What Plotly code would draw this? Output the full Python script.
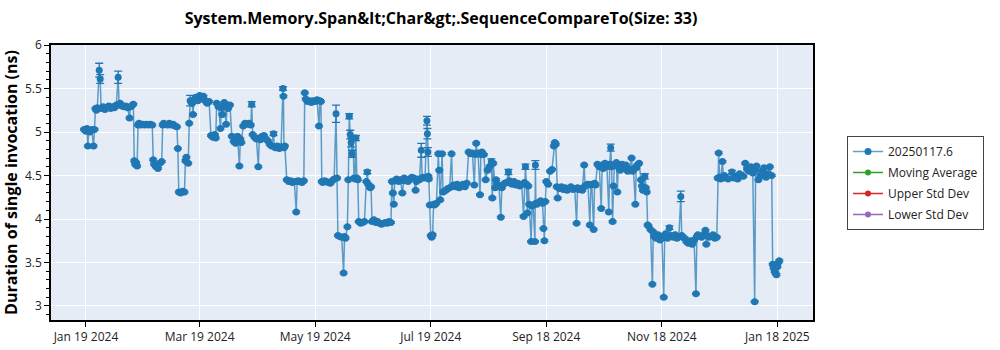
import plotly.graph_objects as go

# ---------------- data ----------------
dates = [
    "2024-01-18", "2024-01-19", "2024-01-19 12:00", "2024-01-20", "2024-01-20 12:00", "2024-01-21", "2024-01-22", "2024-01-23", "2024-01-23 12:00",
    "2024-01-24", "2024-01-24 12:00", "2024-01-25", "2024-01-26", "2024-01-26 12:00", "2024-01-27", "2024-01-28", "2024-01-29", "2024-01-30",
    "2024-01-31", "2024-02-01", "2024-02-02", "2024-02-03", "2024-02-04", "2024-02-05", "2024-02-05 12:00", "2024-02-06", "2024-02-07",
    "2024-02-08", "2024-02-09", "2024-02-10", "2024-02-11", "2024-02-11 12:00", "2024-02-12", "2024-02-13",
    "2024-02-13 12:00", "2024-02-14", "2024-02-14 12:00", "2024-02-15",
    "2024-02-15 12:00", "2024-02-16", "2024-02-17", "2024-02-18", "2024-02-19", "2024-02-20", "2024-02-21", "2024-02-22", "2024-02-23",
    "2024-02-23 12:00", "2024-02-24", "2024-02-25", "2024-02-26", "2024-02-27", "2024-02-28",
    "2024-02-28 12:00", "2024-02-29", "2024-03-01", "2024-03-02", "2024-03-03", "2024-03-04", "2024-03-05", "2024-03-06", "2024-03-07", "2024-03-07 12:00",
    "2024-03-08", "2024-03-09", "2024-03-10", "2024-03-11",
    "2024-03-11 12:00", "2024-03-12", "2024-03-13", "2024-03-13 12:00",
    "2024-03-14", "2024-03-15", "2024-03-15 12:00", "2024-03-16", "2024-03-17", "2024-03-18", "2024-03-19", "2024-03-20", "2024-03-21", "2024-03-22", "2024-03-23", "2024-03-24",
    "2024-03-25", "2024-03-26", "2024-03-27", "2024-03-27 12:00",
    "2024-03-28", "2024-03-29", "2024-03-30", "2024-03-30 12:00", "2024-03-31", "2024-04-01", "2024-04-02", "2024-04-02 12:00", "2024-04-03", "2024-04-04",
    "2024-04-05", "2024-04-06", "2024-04-07", "2024-04-08", "2024-04-09", "2024-04-09 12:00", "2024-04-10",
    "2024-04-11", "2024-04-12", "2024-04-13", "2024-04-14", "2024-04-15", "2024-04-15 12:00",
    "2024-04-16", "2024-04-17", "2024-04-18", "2024-04-19", "2024-04-19 12:00", "2024-04-20", "2024-04-21", "2024-04-22", "2024-04-23", "2024-04-24",
    "2024-04-25", "2024-04-26", "2024-04-27", "2024-04-27 12:00", "2024-04-28", "2024-04-29", "2024-04-30", "2024-05-01", "2024-05-02", "2024-05-02 06:00", "2024-05-02 12:00", "2024-05-03",
    "2024-05-04", "2024-05-05", "2024-05-06", "2024-05-07", "2024-05-08", "2024-05-09", "2024-05-09 12:00", "2024-05-10", "2024-05-11", "2024-05-12", "2024-05-13",
    "2024-05-13 12:00", "2024-05-14", "2024-05-15", "2024-05-16", "2024-05-17", "2024-05-18", "2024-05-19", "2024-05-20", "2024-05-21", "2024-05-21 12:00", "2024-05-22",
    "2024-05-22 12:00", "2024-05-23", "2024-05-24", "2024-05-25", "2024-05-26", "2024-05-27", "2024-05-28", "2024-05-29", "2024-05-30", "2024-05-30 12:00",
    "2024-05-31", "2024-06-01", "2024-06-02", "2024-06-03", "2024-06-03 12:00", "2024-06-04", "2024-06-05", "2024-06-05 12:00",
    "2024-06-06", "2024-06-06 12:00", "2024-06-07", "2024-06-07 12:00", "2024-06-08", "2024-06-08 12:00", "2024-06-09", "2024-06-09 12:00", "2024-06-10", "2024-06-10 12:00",
    "2024-06-11", "2024-06-12", "2024-06-13", "2024-06-14",
    "2024-06-15", "2024-06-15 12:00", "2024-06-16", "2024-06-17", "2024-06-17 12:00",
    "2024-06-18", "2024-06-19", "2024-06-20", "2024-06-21", "2024-06-22", "2024-06-23", "2024-06-24", "2024-06-25", "2024-06-26", "2024-06-27", "2024-06-28",
    "2024-06-28 12:00", "2024-06-29", "2024-06-29 12:00", "2024-06-30", "2024-07-01", "2024-07-02", "2024-07-03", "2024-07-04", "2024-07-04 12:00", "2024-07-05",
    "2024-07-06", "2024-07-07", "2024-07-08", "2024-07-09", "2024-07-10", "2024-07-11", "2024-07-11 12:00", "2024-07-12", "2024-07-13", "2024-07-14", "2024-07-14 12:00",
    "2024-07-15", "2024-07-16", "2024-07-17", "2024-07-17 06:00", "2024-07-17 12:00", "2024-07-17 18:00",
    "2024-07-18", "2024-07-18 12:00", "2024-07-19", "2024-07-19 12:00", "2024-07-20", "2024-07-20 12:00", "2024-07-21", "2024-07-22", "2024-07-23", "2024-07-23 12:00",
    "2024-07-24", "2024-07-25", "2024-07-25 12:00", "2024-07-26", "2024-07-27", "2024-07-28", "2024-07-29", "2024-07-30", "2024-07-30 12:00", "2024-07-31",
    "2024-08-01", "2024-08-02", "2024-08-03", "2024-08-04", "2024-08-05", "2024-08-06", "2024-08-07",
    "2024-08-08", "2024-08-09", "2024-08-10", "2024-08-11", "2024-08-11 12:00", "2024-08-12", "2024-08-12 12:00", "2024-08-13", "2024-08-14", "2024-08-14 12:00",
    "2024-08-15", "2024-08-16", "2024-08-17",
    "2024-08-18", "2024-08-19", "2024-08-20", "2024-08-20 12:00", "2024-08-21", "2024-08-22", "2024-08-22 12:00", "2024-08-23", "2024-08-24", "2024-08-25",
    "2024-08-25 12:00", "2024-08-26", "2024-08-27", "2024-08-28", "2024-08-29", "2024-08-29 12:00", "2024-08-30", "2024-08-31", "2024-09-01", "2024-09-02",
    "2024-09-03", "2024-09-04", "2024-09-05", "2024-09-06", "2024-09-06 12:00", "2024-09-07", "2024-09-07 12:00", "2024-09-08", "2024-09-08 12:00",
    "2024-09-09", "2024-09-10", "2024-09-10 12:00", "2024-09-11", "2024-09-12", "2024-09-12 06:00", "2024-09-12 12:00", "2024-09-13", "2024-09-14", "2024-09-15",
    "2024-09-16", "2024-09-16 12:00", "2024-09-17", "2024-09-17 12:00",
    "2024-09-18", "2024-09-19", "2024-09-20", "2024-09-21", "2024-09-22", "2024-09-22 12:00", "2024-09-23",
    "2024-09-23 12:00", "2024-09-24", "2024-09-24 12:00", "2024-09-25", "2024-09-26", "2024-09-27", "2024-09-28", "2024-09-29", "2024-09-30", "2024-10-01",
    "2024-10-02", "2024-10-03", "2024-10-04", "2024-10-04 12:00", "2024-10-05", "2024-10-06", "2024-10-07", "2024-10-08", "2024-10-08 12:00", "2024-10-09",
    "2024-10-10", "2024-10-11", "2024-10-11 12:00", "2024-10-12", "2024-10-13", "2024-10-13 12:00", "2024-10-14",
    "2024-10-15", "2024-10-16", "2024-10-17", "2024-10-17 12:00", "2024-10-18", "2024-10-19", "2024-10-20", "2024-10-21", "2024-10-21 12:00", "2024-10-22",
    "2024-10-22 12:00", "2024-10-23", "2024-10-23 12:00", "2024-10-24", "2024-10-25", "2024-10-25 12:00", "2024-10-26", "2024-10-27", "2024-10-28", "2024-10-29",
    "2024-10-30", "2024-10-31", "2024-11-01", "2024-11-02", "2024-11-02 12:00", "2024-11-03", "2024-11-04", "2024-11-04 12:00", "2024-11-05", "2024-11-06",
    "2024-11-07", "2024-11-07 12:00", "2024-11-08", "2024-11-09", "2024-11-09 12:00", "2024-11-10", "2024-11-10 12:00",
    "2024-11-11", "2024-11-12", "2024-11-13", "2024-11-13 12:00", "2024-11-14", "2024-11-15", "2024-11-16", "2024-11-17", "2024-11-18", "2024-11-19",
    "2024-11-19 12:00", "2024-11-20", "2024-11-21", "2024-11-22", "2024-11-23", "2024-11-24", "2024-11-25", "2024-11-26", "2024-11-27", "2024-11-28",
    "2024-11-28 12:00", "2024-11-29", "2024-11-30", "2024-12-01", "2024-12-02", "2024-12-03", "2024-12-04", "2024-12-05", "2024-12-06", "2024-12-06 12:00",
    "2024-12-07", "2024-12-08", "2024-12-09", "2024-12-10", "2024-12-11", "2024-12-11 12:00", "2024-12-12", "2024-12-13", "2024-12-14", "2024-12-15",
    "2024-12-16", "2024-12-17",
    "2024-12-17 12:00", "2024-12-18", "2024-12-18 12:00", "2024-12-19", "2024-12-20", "2024-12-20 12:00", "2024-12-21", "2024-12-22", "2024-12-23",
    "2024-12-25", "2024-12-26", "2024-12-27", "2024-12-28", "2024-12-29", "2024-12-30", "2024-12-31",
    "2025-01-01", "2025-01-02", "2025-01-03", "2025-01-04", "2025-01-05", "2025-01-06", "2025-01-06 12:00", "2025-01-07", "2025-01-08", "2025-01-09",
    "2025-01-10", "2025-01-11", "2025-01-12", "2025-01-13", "2025-01-14", "2025-01-15",
    "2025-01-15 12:00", "2025-01-16", "2025-01-16 12:00", "2025-01-17", "2025-01-17 12:00", "2025-01-18", "2025-01-18 12:00", "2025-01-19",
]

values = [
    5.03, 5.01, 5.04, 4.84, 5.02, 5.00, 5.03, 4.84, 5.03,
    5.27, 5.25, 5.28, 5.71, 5.61, 5.27, 5.29, 5.26, 5.28,
    5.30, 5.27, 5.29, 5.28, 5.31, 5.63, 5.31, 5.33, 5.30,
    5.29, 5.30, 5.28, 5.16, 5.29, 5.30, 5.32,
    4.67, 4.63, 4.65, 4.61,
    5.08, 5.10, 5.08, 5.09, 5.08, 5.09, 5.08, 5.09, 5.08,
    4.68, 4.63, 4.60, 4.58, 4.64, 4.66,
    5.08, 5.10, 5.09, 5.08, 5.10, 5.08, 5.09, 5.07, 5.06, 4.81,
    4.31, 4.30, 4.32, 4.31,
    4.67, 4.71, 4.64, 5.10,
    5.36, 5.33, 5.20, 5.37, 5.40, 5.36, 5.42, 5.38, 5.41, 5.36, 5.33, 5.35,
    4.96, 4.94, 4.97, 4.93,
    5.33, 5.29, 5.04, 5.28, 5.20, 5.34, 5.09, 5.30, 5.27, 5.31,
    4.95, 4.89, 4.87, 4.95, 4.61, 4.92, 4.88,
    5.07, 5.10, 5.09, 5.10, 5.08, 5.32,
    4.97, 4.94, 4.92, 4.60, 4.93, 4.91, 4.95, 4.96, 4.92, 4.90,
    4.86, 4.84, 4.98, 4.83, 4.82, 4.84, 4.81, 4.83, 5.50, 5.41, 4.82, 4.84,
    4.45, 4.43, 4.44, 4.42, 4.43, 4.08, 4.43, 4.44, 4.43, 4.42, 4.44,
    5.45, 5.38, 5.35, 5.36, 5.34, 5.36, 5.35, 5.37, 5.07, 5.36, 5.35,
    4.43, 4.42, 4.44, 4.43, 4.42, 4.41, 4.44, 4.46, 5.21, 4.47,
    3.81, 3.80, 3.79, 3.38, 3.80, 3.78, 3.91, 4.45,
    5.18, 4.97, 4.88, 4.75, 4.93, 4.47, 4.46, 4.93, 4.47, 4.45,
    3.97, 3.95, 3.96, 3.97,
    4.43, 4.54, 4.40, 4.36, 4.37,
    3.97, 3.99, 3.96, 3.97, 3.95, 3.94, 3.95, 3.96, 3.95, 3.97, 3.96,
    4.43, 4.30, 4.17, 4.44, 4.46, 4.43, 4.45, 4.30, 4.44, 4.47,
    4.45, 4.43, 4.46, 4.48, 4.47, 4.33, 4.43, 4.46, 4.45, 4.79, 4.47,
    4.48, 4.47, 5.13, 4.98, 4.77, 4.49,
    4.46, 4.16, 3.81, 3.79, 3.82, 4.17, 4.16, 4.18, 4.75, 4.56,
    4.22, 4.75, 4.31, 4.32, 4.33, 4.35, 4.36, 4.75, 4.38, 4.39,
    4.37, 4.40, 4.36, 4.38, 4.40, 4.37, 4.41,
    4.77, 4.75, 4.76, 4.39, 4.74, 4.87, 4.75, 4.76, 4.28, 4.74,
    4.77, 4.74, 4.45,
    4.56, 4.60, 4.66, 4.24, 4.64, 4.36, 4.45, 4.40, 4.38, 4.02,
    4.36, 4.39, 4.41, 4.42, 4.54, 4.44, 4.41, 4.40, 4.43, 4.39,
    4.41, 4.38, 4.40, 4.03, 4.42, 4.60, 4.40, 4.07, 4.38,
    4.17, 3.74, 4.15, 4.16, 3.74, 4.62, 4.18, 4.17, 4.19, 4.21,
    4.18, 3.89, 3.75, 4.20,
    4.43, 4.40, 4.55, 4.57, 4.84, 4.88, 4.86,
    4.37, 4.24, 4.36, 4.35, 4.37, 4.34, 4.36, 4.33, 4.35, 4.37,
    4.34, 4.35, 3.95, 4.36, 4.34, 4.35, 4.33, 4.62, 4.38, 4.39,
    4.40, 3.93, 4.39, 4.40, 3.88, 4.41, 4.39,
    4.63, 4.60, 4.12, 4.62, 4.58, 4.64, 4.60, 4.08, 4.63, 4.82,
    4.60, 3.97, 4.38, 4.62, 4.65, 4.31, 4.60, 4.56, 4.63, 4.58,
    4.62, 4.55, 4.57, 4.70, 4.55, 4.58, 4.17, 4.59, 4.62, 4.64,
    4.45, 4.38, 4.33, 4.49, 4.36, 4.31, 3.93,
    3.92, 3.88, 3.25, 3.85, 3.80, 3.78, 3.82, 3.76, 3.80, 3.10,
    3.79, 3.83, 3.78, 3.90, 3.81, 3.79, 3.82, 3.78, 3.80, 4.26,
    3.81, 3.79, 3.78, 3.74, 3.72, 3.75, 3.71, 3.76, 3.14, 3.80,
    3.82, 3.80, 3.79, 3.82, 3.87, 3.71, 3.81, 3.79, 3.80, 3.82,
    3.78, 3.79,
    4.47, 4.76, 4.48, 4.46, 4.66, 4.47, 4.50, 4.47, 4.46,
    4.54, 4.47, 4.48, 4.46, 4.52, 4.50, 4.49,
    4.64, 4.58, 4.55, 4.60, 4.53, 3.05, 4.57, 4.61, 4.45, 4.50,
    4.55, 4.59, 4.48, 4.52, 4.60, 4.50,
    3.48, 3.44, 3.40, 3.38, 3.36, 3.45, 3.50, 3.52,
]

# error bar half-widths (ns); most are hidden behind the markers
big_errors = {
    "2024-01-26": 0.08, "2024-01-26 12:00": 0.05, "2024-02-05": 0.07, "2024-03-14": 0.06,
    "2024-04-15 12:00": 0.03, "2024-04-27": 0.02, "2024-05-02": 0.02, "2024-05-30": 0.10,
    "2024-06-06": 0.03, "2024-06-06 12:00": 0.05, "2024-06-07": 0.05, "2024-06-07 12:00": 0.04,
    "2024-06-09 12:00": 0.03, "2024-06-15 12:00": 0.02, "2024-07-14": 0.08, "2024-07-17": 0.05,
    "2024-07-17 06:00": 0.06, "2024-07-17 12:00": 0.05, "2024-08-20": 0.03, "2024-08-29": 0.03,
    "2024-09-07": 0.03, "2024-09-12 06:00": 0.05, "2024-10-22": 0.04, "2024-11-09": 0.03,
    "2024-11-22": 0.02, "2024-11-28": 0.06, "2024-12-25": 0.02,
}

series_name = "20250117.6"
extra_series = ["Moving Average", "Upper Std Dev", "Lower Std Dev"]
extra_colors = ["#2ca02c", "#d62728", "#9467bd"]

tick_dates = ["2024-01-19", "2024-03-19", "2024-05-19", "2024-07-19",
              "2024-09-18", "2024-11-18", "2025-01-18"]
tick_labels = ["Jan 19 2024", "Mar 19 2024", "May 19 2024", "Jul 19 2024",
               "Sep 18 2024", "Nov 18 2024", "Jan 18 2025"]

title_text = "System.Memory.Span&amp;lt;Char&amp;gt;.SequenceCompareTo(Size: 33)"
y_title = "Duration of single invocation (ns)"

# ---------------- figure ----------------
n = min(len(dates), len(values))
errors = [big_errors.get(d, 0.01) for d in dates[:n]]

FONT = "Open Sans, Noto Sans, sans-serif"
BLUE = "#1f77b4"

fig = go.Figure()
fig.add_trace(go.Scatter(
    x=dates[:n], y=values[:n], name=series_name, mode="lines+markers",
    legendgroup="g0",
    line=dict(color="rgba(31,119,180,0.7)", width=1.5),
    marker=dict(color=BLUE, size=7),
    error_y=dict(type="data", array=errors, visible=True, color=BLUE, thickness=1.3, width=4),
))
for i, (nm, col) in enumerate(zip(extra_series, extra_colors)):
    fig.add_trace(go.Scatter(
        x=[None], y=[None], name=nm, mode="lines+markers", legendgroup=f"g{i+1}",
        line=dict(color=col, width=1.5), marker=dict(color=col, size=6),
    ))

L, R, T, B = 51, 187, 45, 30
W, H = 1000, 350
pw, ph = W - L - R, H - T - B

# legend shadow
lx0, ly0, lx1, ly1 = 847, 136, 978, 227
def px2paper(x, y):
    return (x - L) / pw, (H - B - y) / ph
sx0, sy1 = px2paper(lx0 + 3, ly0 + 3)
sx1, sy0 = px2paper(lx1 + 3, ly1 + 3)
fig.add_shape(type="rect", xref="paper", yref="paper", x0=sx0, x1=sx1, y0=sy0, y1=sy1,
              fillcolor="#8a8a8a", line=dict(width=0), layer="above")

lgx, lgy = px2paper(lx0, ly0)
fig.update_layout(
    width=W, height=H,
    margin=dict(l=L, r=R, t=T, b=B, autoexpand=False),
    paper_bgcolor="white", plot_bgcolor="#E5ECF6",
    font=dict(family=FONT, size=12, color="#222"),
    title=dict(text=title_text, x=441 / W, xref="container", y=1 - 18 / H, yref="container",
               xanchor="center", yanchor="middle",
               font=dict(family=FONT, size=16, color="black", weight="bold")),
    legend=dict(x=lgx, y=lgy, xanchor="left", yanchor="top", bgcolor="white",
                bordercolor="#444", borderwidth=1, tracegroupgap=2,
                font=dict(size=12, color="#222")),
    showlegend=True,
)
fig.update_xaxes(
    type="date", range=["2023-12-31 13:00", "2025-02-05 19:00"], automargin=False,
    tickvals=tick_dates, ticktext=tick_labels,
    showgrid=True, gridcolor="white", gridwidth=1,
    showline=True, linecolor="black", linewidth=1.5, mirror=True,
    ticks="outside", ticklen=5, tickcolor="black",
    tickfont=dict(size=12, color="#222"), zeroline=False,
)
fig.update_yaxes(
    range=[2.839, 6.0], dtick=0.5, tick0=0, automargin=False,
    showgrid=True, gridcolor="white", gridwidth=1,
    showline=True, linecolor="black", linewidth=1.5, mirror=True,
    ticks="outside", ticklen=5, tickcolor="black",
    minor=dict(dtick=0.1, ticks="outside", ticklen=3, tickcolor="black", showgrid=False),
    tickfont=dict(size=12, color="#222"), zeroline=False,
    title=dict(text=y_title, font=dict(family=FONT, size=16, color="black", weight="bold"), standoff=3),
)

fig.write_html("out.html")
